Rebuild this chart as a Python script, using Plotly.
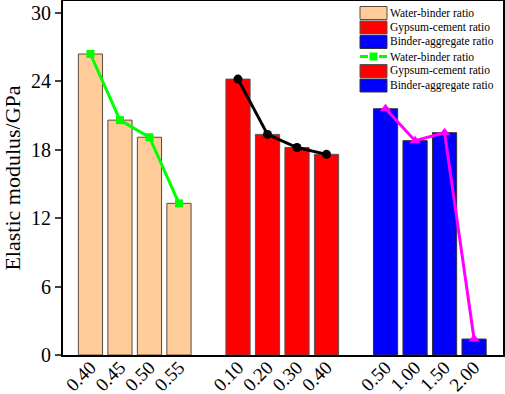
import plotly.graph_objects as go

# Data
wb_labels = ["0.40", "0.45", "0.50", "0.55"]
wb_values = [26.4, 20.6, 19.1, 13.3]
gc_labels = ["0.10", "0.20", "0.30", "0.40"]
gc_values = [24.2, 19.35, 18.2, 17.6]
ba_labels = ["0.50", "1.00", "1.50", "2.00"]
ba_values = [21.6, 18.8, 19.5, 1.4]
series_names = ["Water-binder ratio", "Gypsum-cement ratio", "Binder-aggregate ratio"]
y_ticks = [0, 6, 12, 18, 24, 30]

groups = [(wb_labels, wb_values), (gc_labels, gc_values), (ba_labels, ba_values)]
bar_colors = ["#FFCC99", "#FF0000", "#0000FF"]
edge_colors = ["#5a4a3c", "#555555", "#333333"]
line_colors = ["#00FF00", "#000000", "#FF00FF"]
markers = ["square", "circle", "triangle-up"]
msizes = [8, 9, 10]

FONT = "Liberation Serif, Times New Roman, serif"
W, H = 505, 394
ML, MR, MT, MB = 63, 2, 1, 39
PW, PH = W - ML - MR, H - MT - MB

fig = go.Figure()
tickvals, ticktext = [], []
xs_all = []
for g, (labs, vals) in enumerate(groups):
    xs = [g * 5 + i for i in range(len(vals))]
    xs_all.append(xs)
    tickvals += xs
    ticktext += labs
    fig.add_trace(go.Bar(
        x=xs, y=vals, name=series_names[g], width=0.82,
        marker=dict(color=bar_colors[g], line=dict(color=edge_colors[g], width=1)),
        showlegend=False,
    ))

for g, (labs, vals) in enumerate(groups):
    fig.add_trace(go.Scatter(
        x=xs_all[g], y=vals, mode="lines+markers", name=series_names[g],
        line=dict(color=line_colors[g], width=3),
        marker=dict(symbol=markers[g], size=msizes[g], color=line_colors[g]),
        showlegend=False,
    ))

# Legend (drawn as in the original: bar swatches, then line sample, then two bar swatches)
def px_x(p):
    return (p - ML) / PW

def px_y(p):
    return (H - MB - p) / PH

legend_entries = [("bar", 0), ("bar", 1), ("bar", 2), ("line", 0), ("bar", 1), ("bar", 2)]
LEG_LEFT, LEG_SW_W, LEG_SW_H, LEG_TOP, LEG_STEP, LEG_TXT = 360, 27, 13, 13.0, 14.5, 387.5
shapes, annotations = [], []
for k, (kind, g) in enumerate(legend_entries):
    cy = LEG_TOP + k * LEG_STEP
    if kind == "bar":
        shapes.append(dict(type="rect", xref="paper", yref="paper",
                           x0=px_x(LEG_LEFT), x1=px_x(LEG_LEFT + LEG_SW_W),
                           y0=px_y(cy - LEG_SW_H / 2), y1=px_y(cy + LEG_SW_H / 2),
                           fillcolor=bar_colors[g], line=dict(color=edge_colors[g], width=1)))
    else:
        for a, b in ((LEG_LEFT, LEG_LEFT + 8), (LEG_LEFT + LEG_SW_W - 8, LEG_LEFT + LEG_SW_W)):
            shapes.append(dict(type="line", xref="paper", yref="paper",
                               x0=px_x(a), x1=px_x(b), y0=px_y(cy), y1=px_y(cy),
                               line=dict(color=line_colors[g], width=3)))
        mid = LEG_LEFT + LEG_SW_W / 2
        shapes.append(dict(type="rect", xref="paper", yref="paper",
                           x0=px_x(mid - 4), x1=px_x(mid + 4), y0=px_y(cy - 4), y1=px_y(cy + 4),
                           fillcolor=line_colors[g], line=dict(width=0)))
    annotations.append(dict(text=series_names[g], xref="paper", yref="paper",
                            x=px_x(LEG_TXT), y=px_y(cy), xanchor="left", yanchor="middle",
                            showarrow=False, font=dict(family=FONT, size=11.5, color="black")))

fig.update_layout(
    width=W, height=H,
    margin=dict(l=ML, r=MR, t=MT, b=MB),
    paper_bgcolor="white", plot_bgcolor="white",
    barmode="overlay", showlegend=False,
    font=dict(family=FONT, color="black"),
    shapes=shapes, annotations=annotations,
    xaxis=dict(range=[-0.93, 13.98], tickvals=tickvals, ticktext=ticktext,
               tickangle=-45, tickfont=dict(family=FONT, size=19), automargin=False,
               ticklabelstandoff=-8,
               showline=True, linecolor="black", linewidth=1.8, mirror=True,
               showgrid=False, zeroline=False, ticks=""),
    yaxis=dict(range=[0, 31.05], tickvals=y_ticks, tickfont=dict(family=FONT, size=20),
               automargin=False,
               title=dict(text="Elastic modulus/GPa", font=dict(family=FONT, size=22), standoff=12),
               showline=True, linecolor="black", linewidth=1.8, mirror=True,
               showgrid=False, zeroline=False, ticks="outside", ticklen=6, tickwidth=1.5),
)

fig.write_html(
    "out.html",
    config={"displayModeBar": False},
    post_script="document.body.style.margin='0';document.body.style.overflow='hidden';",
)
